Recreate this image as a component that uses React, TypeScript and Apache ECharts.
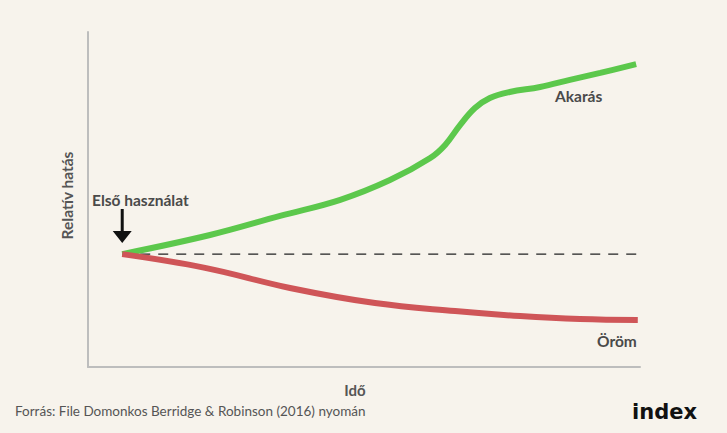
import React, { useEffect, useRef } from "react";
import * as echarts from "echarts";

const wantingX = [6.2, 22.1, 34.8, 45.7, 54.7, 62.0, 64.7, 67.4, 70.1, 72.8, 76.4, 81.9, 87.3, 92.8, 99.3];
const wantingY = [33.7, 39.4, 45.1, 49.9, 55.8, 62.4, 66.3, 72.2, 77.3, 80.3, 82.1, 83.6, 85.7, 87.8, 90.4];
const likingX = [6.2, 21.2, 36.6, 52.0, 66.5, 78.3, 89.1, 99.6];
const likingY = [33.7, 29.6, 23.6, 19.1, 16.7, 15.2, 14.3, 14.0];
const baselineX = [6.2, 100];
const baselineY = [33.7, 33.7];

const labels = { start: "Első használat", wanting: "Akarás", liking: "Öröm", yName: "Relatív hatás", xName: "Idő" };
const source = "Forrás: File Domonkos Berridge & Robinson (2016) nyomán";

const zip = (xs: number[], ys: number[]) => xs.map((x, i) => [x, ys[i]]);

export default function App() {
  const ref = useRef<HTMLDivElement>(null);
  useEffect(() => {
    if (!ref.current) return;
    const chart = echarts.init(ref.current, undefined, { renderer: "svg" });
    const font = "Lato, 'Noto Sans', sans-serif";
    chart.setOption({
      animation: false,
      backgroundColor: "#f7f3ec",
      textStyle: { fontFamily: font },
      grid: { left: 88, top: 32, right: 87, bottom: 66 },
      xAxis: {
        type: "value", min: 0, max: 100,
        name: labels.xName, nameLocation: "middle", nameGap: 15,
        nameTextStyle: { fontSize: 15, fontWeight: "bold", color: "#555", fontFamily: font, padding: [0, 18, 0, 0] },
        axisLine: { show: true, lineStyle: { color: "#bdbdbd", width: 2 } },
        axisTick: { show: false }, axisLabel: { show: false }, splitLine: { show: false },
      },
      yAxis: {
        type: "value", min: 0, max: 100,
        name: labels.yName, nameLocation: "middle", nameGap: 13, nameRotate: 90,
        nameTextStyle: { fontSize: 15.5, fontWeight: "bold", color: "#555", fontFamily: font, padding: [0, 0, 0, 8] },
        axisLine: { show: true, lineStyle: { color: "#bdbdbd", width: 2 } },
        axisTick: { show: false }, axisLabel: { show: false }, splitLine: { show: false },
      },
      series: [
        {
          type: "line", data: zip(baselineX, baselineY), symbol: "none",
          lineStyle: { color: "#222", width: 1.2, type: [10, 8] }, z: 1,
        },
        {
          type: "line", data: zip(wantingX, wantingY), symbol: "none", smooth: 0.4,
          lineStyle: { color: "#5cc84c", width: 6 }, z: 3,
        },
        {
          type: "line", data: zip(likingX, likingY), symbol: "none", smooth: 0.4,
          lineStyle: { color: "#cf5558", width: 6 }, z: 4,
          markPoint: {
            silent: true,
            data: [{
              coord: [likingX[0], likingY[0]],
              symbol: "path://M8,0 L11,0 L11,22 L19,22 L9.5,34 L0,22 L8,22 Z",
              symbolSize: [19, 34], symbolOffset: [0, -28],
              itemStyle: { color: "#111" }, label: { show: false },
            }],
          },
        },
      ],
      graphic: [
        { type: "text", left: 92, top: 192, style: { text: labels.start, font: `bold 15.5px ${font}`, fill: "#4a4a4a" } },
        { type: "text", left: 555, top: 88, style: { text: labels.wanting, font: `bold 15.5px ${font}`, fill: "#4a4a4a" } },
        { type: "text", left: 597, top: 333, style: { text: labels.liking, font: `bold 15.5px ${font}`, fill: "#4a4a4a" } },
        { type: "text", left: 15, top: 404, style: { text: source, font: `13.5px ${font}`, fill: "#555" } },
        { type: "text", left: 632, top: 401, style: { text: "index", font: `bold 21px 'DejaVu Sans', sans-serif`, fill: "#111" } },
      ],
    });
    return () => chart.dispose();
  }, []);
  return <div ref={ref} style={{ position: "fixed", left: 0, top: 0, width: 727, height: 433, background: "#f7f3ec" }} />;
}
